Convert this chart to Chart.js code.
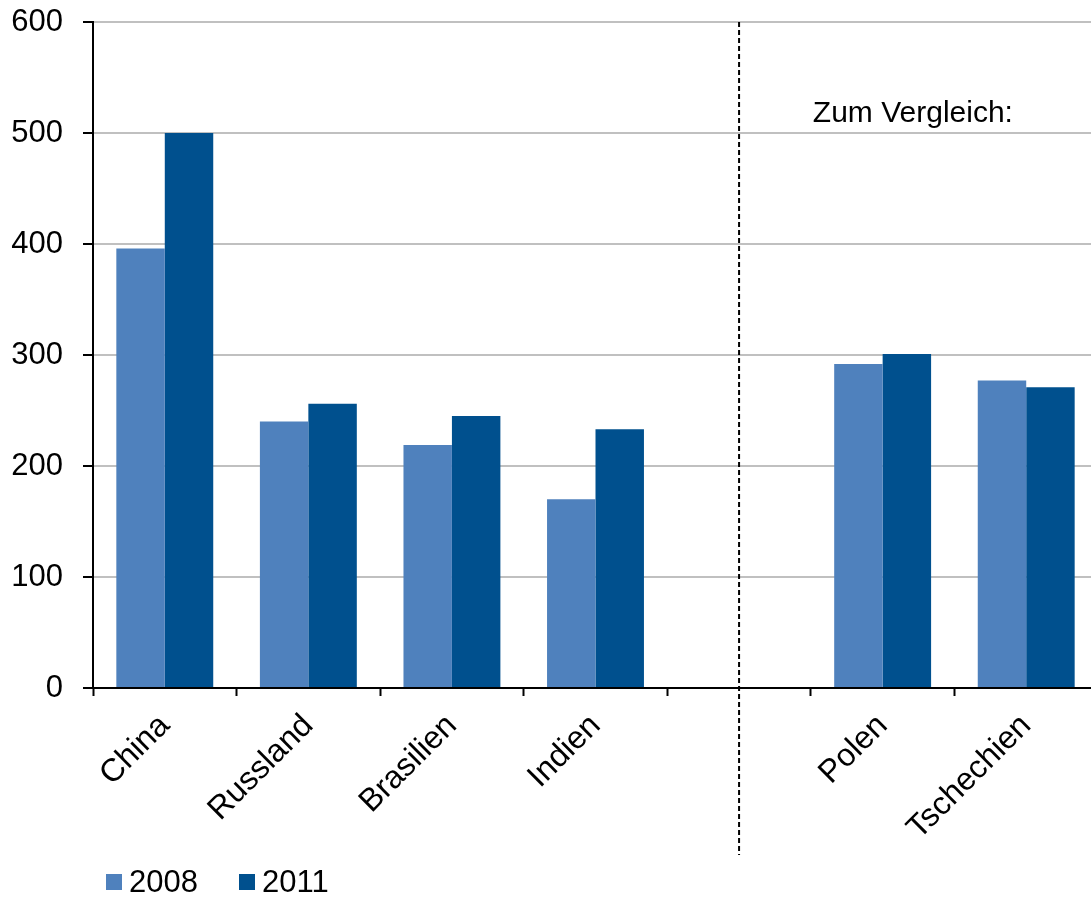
<!DOCTYPE html>
<html>
<head>
<meta charset="utf-8">
<script src="https://cdn.jsdelivr.net/npm/chart.js@4.4.0/dist/chart.umd.min.js"></script>
<style>
    html, body { margin: 0; padding: 0; background: #fff; overflow: hidden; }
    #wrap { width: 1105px; height: 897px; }
</style>
</head>
<body>
<div id="wrap"><canvas id="chart"></canvas></div>
<script>
// Daten
const laender = ['China', 'Russland', 'Brasilien', 'Indien', '', 'Polen', 'Tschechien'];
const werte2008 = [396, 240, 219, 170, null, 292, 277];
const werte2011 = [500, 256, 245, 233, null, 301, 271];
const jahre = ['2008', '2011'];
const farben = ['#4f81bd', '#00508e'];
const yTicks = [0, 100, 200, 300, 400, 500, 600];
const vergleichText = 'Zum Vergleich:';

const schrift = '"Liberation Sans", Arial, sans-serif';

// Trennlinie, Hinweistext und Legende zeichnen
const extras = {
    id: 'extras',
    afterDraw(chart) {
        const ctx = chart.ctx;
        const x = chart.scales.x;
        const y = chart.scales.y;
        const area = chart.chartArea;

        // gestrichelte Linie in der leeren Kategorie
        const lx = x.getPixelForValue(4);
        ctx.save();
        ctx.strokeStyle = '#000';
        ctx.lineWidth = 2;
        ctx.setLineDash([5, 3]);
        ctx.beginPath();
        ctx.moveTo(lx, area.top);
        ctx.lineTo(lx, 855);
        ctx.stroke();
        ctx.restore();

        // Zum Vergleich:
        ctx.save();
        ctx.font = '30px ' + schrift;
        ctx.fillStyle = '#000';
        ctx.textAlign = 'left';
        ctx.textBaseline = 'alphabetic';
        const tx = (x.getPixelForValue(4) + x.getPixelForValue(5)) / 2 + 2;
        ctx.fillText(vergleichText, tx, y.getPixelForValue(510));
        ctx.restore();

        // Legende unten links
        ctx.save();
        ctx.font = '31px ' + schrift;
        ctx.textBaseline = 'middle';
        let lx2 = 106;
        const ly = 882;
        chart.data.datasets.forEach(ds => {
            ctx.fillStyle = ds.backgroundColor;
            ctx.fillRect(lx2, ly - 8, 16, 16);
            ctx.fillStyle = '#000';
            ctx.fillText(ds.label, lx2 + 23, ly + 1);
            lx2 += 133;
        });
        ctx.restore();
    }
};

new Chart(document.getElementById('chart'), {
    type: 'bar',
    data: {
        labels: laender,
        datasets: [
            { label: jahre[0], data: werte2008, backgroundColor: farben[0] },
            { label: jahre[1], data: werte2011, backgroundColor: farben[1] }
        ]
    },
    options: {
        responsive: true,
        maintainAspectRatio: false,
        animation: false,
        layout: { padding: { top: 22, right: 7, bottom: 0, left: 0 } },
        datasets: { bar: { categoryPercentage: 0.675, barPercentage: 1 } },
        plugins: {
            legend: { display: false },
            tooltip: { enabled: false }
        },
        scales: {
            x: {
                grid: {
                    offset: true,
                    drawOnChartArea: false,
                    drawTicks: true,
                    tickLength: 8,
                    tickColor: '#000',
                    tickWidth: 2
                },
                border: { display: true, color: '#000', width: 2 },
                ticks: {
                    autoSkip: false,
                    maxRotation: 45,
                    minRotation: 45,
                    padding: 11,
                    color: '#000',
                    font: { family: schrift, size: 32 }
                },
                afterFit(scale) {
                    scale.height = 209;
                    scale.paddingLeft = 0;
                    scale.paddingRight = 0;
                }
            },
            y: {
                min: 0,
                max: 600,
                afterBuildTicks(scale) { scale.ticks = yTicks.map(v => ({ value: v })); },
                grid: {
                    color: '#c0c0c0',
                    lineWidth: 2,
                    drawTicks: true,
                    tickLength: 10,
                    tickColor: '#000',
                    tickWidth: 2
                },
                border: { display: true, color: '#000', width: 2 },
                ticks: {
                    padding: 20,
                    color: '#000',
                    font: { family: schrift, size: 31 }
                },
                afterFit(scale) {
                    scale.width = 93;
                    scale.paddingTop = 0;
                    scale.paddingBottom = 0;
                }
            }
        }
    },
    plugins: [extras]
});
</script>
</body>
</html>
